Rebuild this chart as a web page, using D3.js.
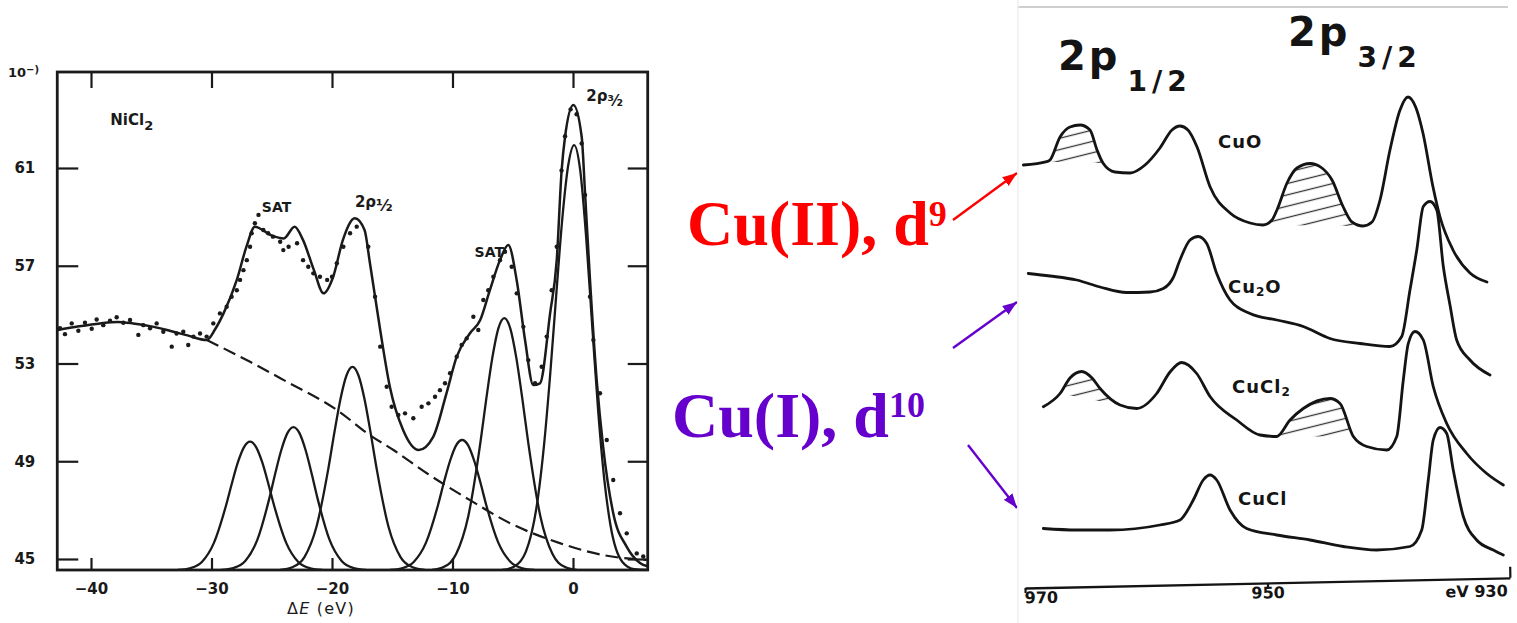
<!DOCTYPE html>
<html>
<head>
<meta charset="utf-8">
<title>Ni 2p and Cu 2p satellite structure</title>
<script src="https://cdn.jsdelivr.net/npm/d3@7/dist/d3.min.js"></script>
<style>
  html, body { margin: 0; background: #fff; }
  svg { display: block; }
</style>
</head>
<body>
<svg id="fig" width="1517" height="623"></svg>
<script>
// ===== NiCl2, Ni 2p: energy relative to the 2p3/2 line (eV) vs counts =====
const niTicksX = [-40, -30, -20, -10, 0];
const niTicksY = [61, 57, 53, 49, 45];

// fitted envelope
const niFit = [[-42.8,54.37],[-41.0,54.52],[-39.25,54.64],[-37.8,54.7],[-36.5,54.64],[-35.0,54.52],[-33.7,54.37],[-32.0,54.15],[-30.4,53.96],[-29.7,54.4],[-29.0,55.05],[-27.9,56.42],[-27.1,57.78],[-26.4,58.6],[-25.1,58.26],[-24.0,58.12],[-23.1,58.6],[-22.4,58.05],[-21.5,56.82],[-20.7,55.87],[-19.9,56.55],[-19.1,58.05],[-18.1,58.94],[-17.3,58.46],[-16.85,57.1],[-16.0,54.37],[-15.2,52.05],[-14.1,50.28],[-12.8,49.46],[-11.6,50.0],[-10.5,51.78],[-9.65,53.28],[-8.55,54.24],[-7.7,54.78],[-6.9,56.0],[-6.06,57.23],[-5.37,57.85],[-4.67,56.4],[-3.98,53.96],[-3.3,52.12],[-2.74,52.19],[-1.9,55.05],[-1.35,57.23],[-0.94,60.92],[-0.66,62.28],[0.03,63.58],[0.72,62.28],[1.0,59.97],[1.41,56.42],[1.97,52.3],[2.5,49.6],[3.34,46.87],[4.46,45.5],[5.56,44.84],[6.2,44.7]];

// inelastic background (dashed)
const niBackground = [[-30.4,53.96],[-26.8,53.07],[-24.0,52.32],[-19.6,51.1],[-16.8,50.05],[-14.9,49.46],[-12.1,48.5],[-8.55,47.41],[-5.2,46.46],[-1.1,45.65],[2.5,45.16],[6.1,44.96]];

// fitted components
const niSat12a = [[-32.8,44.55],[-31.8,44.62],[-30.8,44.88],[-29.8,45.66],[-28.8,47.18],[-28.3,48.11],[-27.8,48.97],[-27.3,49.58],[-26.8,49.8],[-26.3,49.58],[-25.8,48.97],[-25.3,48.11],[-24.8,47.18],[-23.8,45.66],[-22.8,44.88],[-21.8,44.62],[-20.8,44.55]];
const niSat12b = [[-29.2,44.55],[-28.2,44.63],[-27.2,44.92],[-26.2,45.78],[-25.2,47.48],[-24.7,48.52],[-24.2,49.47],[-23.7,50.15],[-23.2,50.4],[-22.7,50.15],[-22.2,49.47],[-21.7,48.52],[-21.2,47.48],[-20.2,45.78],[-19.2,44.92],[-18.2,44.63],[-17.2,44.55]];
const niP12 = [[-24.3,44.55],[-23.3,44.66],[-22.3,45.07],[-21.3,46.3],[-20.3,48.71],[-19.8,50.18],[-19.3,51.54],[-18.8,52.51],[-18.3,52.86],[-17.8,52.51],[-17.3,51.54],[-16.8,50.18],[-16.3,48.71],[-15.3,46.3],[-14.3,45.07],[-13.3,44.66],[-12.3,44.55]];
const niSat32a = [[-15.2,44.55],[-14.2,44.62],[-13.2,44.89],[-12.2,45.67],[-11.2,47.21],[-10.7,48.16],[-10.2,49.02],[-9.7,49.65],[-9.2,49.87],[-8.7,49.65],[-8.2,49.02],[-7.7,48.16],[-7.2,47.21],[-6.2,45.67],[-5.2,44.89],[-4.2,44.62],[-3.2,44.55]];
const niSat32b = [[-11.7,44.55],[-10.7,44.68],[-9.7,45.2],[-8.7,46.73],[-7.7,49.71],[-7.2,51.54],[-6.7,53.22],[-6.2,54.43],[-5.7,54.86],[-5.2,54.43],[-4.7,53.22],[-4.2,51.54],[-3.7,49.71],[-2.7,46.73],[-1.7,45.2],[-0.7,44.68],[0.3,44.55]];
const niP32 = [[-5.9,44.55],[-4.9,44.68],[-3.9,45.31],[-2.9,47.54],[-2.4,49.68],[-1.9,52.51],[-1.4,55.75],[-0.9,58.86],[-0.4,61.1],[0.1,61.94],[0.6,60.9],[1.1,58.11],[1.6,54.5],[2.1,50.99],[2.6,48.24],[3.1,46.41],[4.1,44.88],[5.1,44.58],[6.1,44.55]];

// measured counts
const niData = [[-42.57,54.44],[-42.16,54.2],[-41.6,54.64],[-41.05,54.34],[-40.5,54.67],[-39.94,54.42],[-39.53,54.8],[-38.98,54.57],[-38.42,54.75],[-37.87,54.89],[-37.32,54.67],[-36.76,54.78],[-36.07,54.17],[-35.66,54.57],[-35.1,54.44],[-34.55,54.64],[-34.0,54.3],[-33.3,53.69],[-32.9,54.23],[-32.34,54.3],[-31.93,53.76],[-31.5,54.1],[-30.95,54.23],
  [-30.4,54.1],[-29.85,54.64],[-29.3,55.05],[-28.74,55.32],[-28.33,55.73],[-27.9,56.0],[-27.63,56.42],[-27.35,56.82],[-27.07,57.23],[-26.8,57.78],[-26.67,58.33],[-26.4,58.74],[-26.1,59.08],[-25.7,58.46],[-25.3,58.33],[-24.9,58.19],[-24.3,57.98],[-24.04,57.64],[-23.6,57.78],[-22.9,57.92],[-22.4,57.23],[-21.97,56.96],[-21.55,56.69],[-21.0,56.55],[-20.4,56.42],[-20.0,56.55],[-19.6,57.1],[-19.06,57.78],[-18.5,58.33],[-17.95,58.6],
  [-16.99,57.78],[-16.43,55.73],[-16.0,53.69],[-15.46,52.05],[-15.05,51.23],[-14.5,50.89],[-13.94,50.96],[-13.25,50.76],[-12.56,51.23],[-12.0,51.37],[-11.45,51.64],[-11.04,51.91],[-10.62,52.19],[-10.2,52.6],[-9.65,53.28],[-9.24,53.76],[-8.82,54.03],[-8.27,54.91],[-7.86,54.37],[-7.44,55.6],[-7.03,56.0],[-6.61,56.55],[-6.06,57.23],[-5.64,57.57],[-5.09,56.96],[-4.67,55.87],[-4.12,54.5],[-3.71,53.14],[-3.15,52.19],[-2.6,52.87],[-2.18,54.1],[-1.77,56.0],[-1.35,57.78],
  [-0.95,60.9],[-0.66,62.3],[-0.2,63.4],[0.3,63.2],[0.72,62.0],[1.0,59.9],[1.41,55.73],[1.69,53.96],[2.24,51.78],[2.8,49.87],[3.34,48.23],[3.9,46.87],[4.46,46.05],[5.29,45.23],[5.83,45.1]];

// ===== Cu 2p spectra: binding energy (eV) vs intensity (arb. units, stacked) =====
const cuTicks = [970, 950, 930];
const cuO = [[970.14,85.0],[968.21,85.66],[967.94,86],[967.11,90.6],[966.29,92.6],[965.46,93],[964.64,92],[964.06,88],[963.57,85.4],[962.58,83.6],[961.34,83.4],[960.1,85],[958.87,88.4],[957.88,92],[957.22,92.8],[956.56,92],[955.81,88.6],[954.74,80.66],[953.09,75.4],[951.44,73.4],[950.37,73],[949.63,74],[949.22,76],[948.39,81.4],[947.57,84.4],[946.49,85.3],[945.51,84.4],[944.68,82],[943.77,76.7],[943.03,73.6],[942.12,72.8],[941.38,73.6],[940.72,78],[939.9,88],[939.07,96],[938.41,98.6],[937.75,96.4],[937.18,91.4],[936.35,80.6],[935.77,74.6],[934.7,68],[933.3,63.4],[931.9,61.6]];
const cu2O = [[969.73,63.3],[967.94,62.8],[965.74,62],[963.81,60.6],[961.61,59.5],[959.69,59.6],[958.59,60.3],[957.79,62.4],[957.22,66],[956.39,70],[955.71,70.7],[955.01,69.3],[954.19,63.3],[953.09,58],[951.44,55.3],[949.24,54],[947.05,52.7],[944.85,50.3],[942.37,49.3],[939.9,48.7],[938.93,50.7],[938.25,60],[937.69,68],[937.15,76.7],[936.6,77.7],[936.04,76],[935.5,64.7],[934.95,57],[934.4,50],[933.3,46],[931.65,43]];
const cuCl2 = [[968.49,36.66],[967.11,39.3],[966.29,42.4],[965.32,43.7],[964.47,42.4],[963.81,40.3],[962.16,37],[960.79,36.3],[959.14,39.3],[958.04,43.6],[957.08,45.5],[955.84,43.3],[954.74,38.7],[952.54,34],[950.62,31],[949.24,30.7],[948.14,34],[947.05,36.3],[944.85,38.3],[944.02,37.3],[942.92,30.7],[941.82,28.7],[940.17,28],[939.34,30.7],[938.8,42],[938.39,49.3],[937.84,51.7],[937.15,50],[936.33,40.7],[935.22,33.3],[933.57,27.3],[931.92,23.3],[930.55,21]];
const cuCl = [[968.49,12.3],[965.74,12],[962.99,12],[958.87,13],[957.22,14],[956.12,18],[955.3,22],[954.74,23],[954.19,22],[953.09,16],[951.72,12.3],[949.24,11],[946.49,10],[943.75,8.7],[940.99,8],[938.25,8.7],[937.28,12],[936.74,22],[936.33,30],[935.77,32.5],[935.22,31.3],[934.68,24],[933.85,14.7],[932.75,10],[931.38,8],[930.55,7]];

// shake-up satellites (hatched), as binding-energy windows
const cuOSatellites = [[968.21, 963.57], [950.37, 942.12]];
const cuCl2Satellites = [[967.11, 962.16], [949.24, 942.92]];

// ---------------------------------------------------------------
const svg = d3.select("#fig");
const defs = svg.append("defs");
const ink = "#1a1a1a";
const sans = "DejaVu Sans, sans-serif";

// ---------- left panel ----------
const xNi = d3.scaleLinear().domain([-40, 0]).range([91, 573]);
const yNi = d3.scaleLinear().domain([45, 61]).range([559, 168]);
const frame = { left: xNi(-42.8), right: xNi(6.2), top: 72, bottom: yNi(44.55) };

defs.append("clipPath").attr("id", "niClip").append("rect")
  .attr("x", frame.left).attr("y", frame.top)
  .attr("width", frame.right - frame.left).attr("height", frame.bottom - frame.top);

const gNi = svg.append("g");
const niLine = d3.line().x(d => xNi(d[0])).y(d => yNi(d[1])).curve(d3.curveMonotoneX);

function styleAxis(g) {
  g.select(".domain").remove();
  g.selectAll(".tick line").attr("stroke", ink).attr("stroke-width", 2.2);
  g.selectAll(".tick text").attr("fill", ink)
    .attr("font-family", sans).attr("font-weight", "bold").attr("font-size", 15);
}

gNi.append("g").attr("transform", `translate(${frame.left},0)`)
  .call(d3.axisLeft(yNi).tickValues(niTicksY).tickSize(-21).tickPadding(22).tickSizeOuter(0))
  .call(styleAxis);
gNi.append("g").attr("transform", `translate(${frame.right},0)`)
  .call(d3.axisRight(yNi).tickValues(niTicksY).tickSize(-20).tickFormat("").tickSizeOuter(0))
  .call(styleAxis);
gNi.append("g").attr("transform", `translate(0,${frame.top})`)
  .call(d3.axisTop(xNi).tickValues(niTicksX).tickSize(-16).tickFormat("").tickSizeOuter(0))
  .call(styleAxis);
gNi.append("g").attr("transform", `translate(0,${frame.bottom})`)
  .call(d3.axisBottom(xNi).tickValues(niTicksX).tickSize(-12).tickPadding(13).tickSizeOuter(0)
    .tickFormat(d => d < 0 ? "\u2212" + Math.abs(d) : String(d)))
  .call(styleAxis);

gNi.append("rect")
  .attr("x", frame.left).attr("y", frame.top)
  .attr("width", frame.right - frame.left).attr("height", frame.bottom - frame.top)
  .attr("fill", "none").attr("stroke", ink).attr("stroke-width", 2.8);

const plot = gNi.append("g").attr("clip-path", "url(#niClip)");

[niSat12a, niSat12b, niP12, niSat32a, niSat32b, niP32].forEach(c => {
  plot.append("path").attr("d", niLine(c))
    .attr("fill", "none").attr("stroke", ink).attr("stroke-width", 2.3);
});
plot.append("path").attr("d", niLine(niBackground))
  .attr("fill", "none").attr("stroke", ink).attr("stroke-width", 2.2)
  .attr("stroke-dasharray", "13,6");
plot.append("path").attr("d", niLine(niFit))
  .attr("fill", "none").attr("stroke", ink).attr("stroke-width", 2.5);
plot.selectAll("circle.pt").data(niData).join("circle")
  .attr("class", "pt")
  .attr("cx", d => xNi(d[0])).attr("cy", d => yNi(d[1])).attr("r", 2.2)
  .attr("fill", ink);

// axis annotations
const topLab = gNi.append("text").attr("x", 8).attr("y", 77)
  .attr("font-family", sans).attr("font-weight", "bold").attr("font-size", 13).attr("fill", ink);
topLab.append("tspan").text("10");
topLab.append("tspan").attr("dy", -4).attr("font-size", 10).text("\u2212)");

const xt = gNi.append("text").attr("x", 321).attr("y", 614).attr("text-anchor", "middle")
  .attr("font-family", sans).attr("font-size", 16).attr("letter-spacing", 1.2).attr("fill", ink);
xt.append("tspan").text("\u0394");
xt.append("tspan").attr("font-style", "italic").text("E");
xt.append("tspan").text(" (eV)");

// peak labels
const nicl = gNi.append("text").attr("x", xNi(-38.4)).attr("y", yNi(62.75))
  .attr("font-family", sans).attr("font-weight", "bold").attr("font-size", 15).attr("fill", ink);
nicl.append("tspan").text("NiCl");
nicl.append("tspan").attr("dy", 5).attr("font-size", 13).text("2");

function satLabel(e, v) {
  gNi.append("text").attr("x", xNi(e)).attr("y", yNi(v)).attr("text-anchor", "middle")
    .attr("font-family", sans).attr("font-weight", "bold").attr("font-size", 14)
    .attr("fill", ink).text("SAT");
}
satLabel(-24.6, 59.2);
satLabel(-6.95, 57.35);

const p12 = gNi.append("text").attr("x", xNi(-18.1)).attr("y", yNi(59.4))
  .attr("font-family", sans).attr("font-weight", "bold").attr("font-size", 15).attr("fill", ink);
p12.append("tspan").text("2\u03c1");
p12.append("tspan").attr("font-size", 16).attr("dy", 4).text("\u00bd");

const p32 = gNi.append("text").attr("x", xNi(1.1)).attr("y", yNi(63.75))
  .attr("font-family", sans).attr("font-weight", "bold").attr("font-size", 15).attr("fill", ink);
p32.append("tspan").text("2\u03c1");
p32.append("tspan").attr("font-size", 15).attr("dy", 5).text("\u00b3\u2044\u2082");

// ---------- middle annotations ----------
const serif = "Liberation Serif, Times New Roman, serif";
const red = "#ff0000", purple = "#6600cc";

const t1 = svg.append("text").attr("x", 687).attr("y", 245)
  .attr("font-family", serif).attr("font-weight", "bold").attr("font-size", 64).attr("fill", red);
t1.append("tspan").text("Cu(II), d");
t1.append("tspan").attr("font-size", 36).attr("dy", -19).text("9");

const t2 = svg.append("text").attr("x", 672).attr("y", 437)
  .attr("font-family", serif).attr("font-weight", "bold").attr("font-size", 64).attr("fill", purple);
t2.append("tspan").text("Cu(I), d");
t2.append("tspan").attr("font-size", 36).attr("dy", -20).text("10");

function marker(id, color) {
  defs.append("marker").attr("id", id)
    .attr("viewBox", "0 0 12 9").attr("refX", 12).attr("refY", 4.5)
    .attr("markerWidth", 6).attr("markerHeight", 4.5).attr("orient", "auto")
    .append("path").attr("d", "M0,0 L12,4.5 L0,9 Z").attr("fill", color);
}
marker("arRed", red);
marker("arPurple", purple);

function arrow(x1, y1, x2, y2, color, id) {
  svg.append("line").attr("x1", x1).attr("y1", y1).attr("x2", x2).attr("y2", y2)
    .attr("stroke", color).attr("stroke-width", 2.4)
    .attr("marker-end", `url(#${id})`);
}
arrow(953, 220, 1017, 173, red, "arRed");
arrow(953, 348, 1017, 302, purple, "arPurple");
arrow(968, 445, 1017, 508, purple, "arPurple");

// ---------- right panel ----------
const xCu = d3.scaleLinear().domain([970, 930]).range([1025, 1510]);
const yCu = d3.scaleLinear().domain([0, 100]).range([590, 90]);
const cuLine = d3.line().x(d => xCu(d[0])).y(d => yCu(d[1])).curve(d3.curveMonotoneX);

const gCu = svg.append("g");
gCu.append("line").attr("x1", 1017).attr("x2", 1508).attr("y1", 7).attr("y2", 7)
  .attr("stroke", "#cfcfcf").attr("stroke-width", 2);
gCu.append("line").attr("x1", 1018).attr("x2", 1018).attr("y1", 0).attr("y2", 623)
  .attr("stroke", "#efefef").attr("stroke-width", 1.5);

const hatch = defs.append("pattern").attr("id", "hatch")
  .attr("patternUnits", "userSpaceOnUse").attr("width", 14).attr("height", 11)
  .attr("patternTransform", "rotate(-14)");
hatch.append("line").attr("x1", 0).attr("x2", 14).attr("y1", 5.5).attr("y2", 5.5)
  .attr("stroke", "#333").attr("stroke-width", 1.3);

function satelliteAreas(trace, windows) {
  windows.forEach(([hi, lo]) => {
    const seg = trace.filter(d => d[0] <= hi + 1e-6 && d[0] >= lo - 1e-6);
    gCu.append("path").attr("d", cuLine(seg) + "Z")
      .attr("fill", "url(#hatch)").attr("stroke", "none");
  });
}
satelliteAreas(cuO, cuOSatellites);
satelliteAreas(cuCl2, cuCl2Satellites);

[cuO, cu2O, cuCl2, cuCl].forEach(t => {
  gCu.append("path").attr("d", cuLine(t))
    .attr("fill", "none").attr("stroke", "#141414").attr("stroke-width", 2.8)
    .attr("stroke-linejoin", "round").attr("stroke-linecap", "round");
});

// compound names
function compound(e, v, base, sub, tail) {
  const t = gCu.append("text").attr("x", xCu(e)).attr("y", yCu(v))
    .attr("font-family", sans).attr("font-weight", "bold").attr("font-size", 18)
    .attr("letter-spacing", 1).attr("fill", "#141414");
  t.append("tspan").text(base);
  if (sub) t.append("tspan").attr("font-size", 12).attr("dy", 3).text(sub);
  if (tail) t.append("tspan").attr("dy", -3).text(tail);
}
compound(954.08, 88.4, "CuO");
compound(953.26, 59.4, "Cu", "2", "O");
compound(952.93, 39.4, "CuCl", "2");
compound(952.43, 17.0, "CuCl");

// level headings
function level(x, y, sub) {
  const t = gCu.append("text").attr("x", x).attr("y", y)
    .attr("font-family", sans).attr("font-weight", "bold").attr("font-size", 40)
    .attr("letter-spacing", 3).attr("fill", "#141414");
  t.append("tspan").text("2p");
  t.append("tspan").attr("font-size", 28).attr("dy", 21).attr("dx", 7).attr("letter-spacing", 5).text(sub);
}
level(1058, 70, "1/2");
level(1288, 46, "3/2");

// binding-energy axis (slightly tilted on the page)
const axCu = gCu.append("g").attr("transform", "translate(0,588) rotate(-1.2,1025,0)")
  .call(d3.axisBottom(xCu).tickValues(cuTicks).tickSize(5).tickPadding(1).tickSizeOuter(0)
    .tickFormat(d => d === 930 ? "eV 930" : String(d)));
axCu.select(".domain").attr("stroke", "#141414").attr("stroke-width", 2.4);
axCu.selectAll(".tick line").attr("stroke", "#141414").attr("stroke-width", 2.2)
  .attr("y2", d => d === 930 ? -11 : 5);
axCu.selectAll(".tick text").attr("fill", "#141414")
  .attr("font-family", sans).attr("font-weight", "bold").attr("font-size", 16)
  .attr("text-anchor", d => d === 970 ? "start" : d === 930 ? "end" : "middle")
  .attr("dx", d => d === 970 ? -1 : d === 930 ? -3 : 0)
  .attr("y", d => d === 930 ? 7 : 4);
</script>
</body>
</html>
